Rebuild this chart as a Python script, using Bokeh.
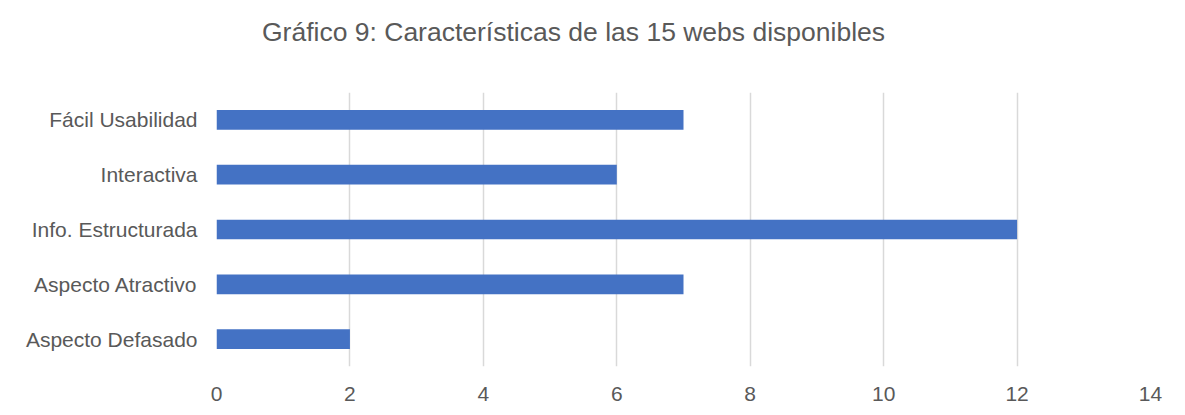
from bokeh.plotting import figure
from bokeh.models import Range1d, FixedTicker, ColumnDataSource, Div
from bokeh.layouts import column
from bokeh.embed import file_html
from bokeh.resources import INLINE

categories = ["Aspecto Defasado", "Aspecto Atractivo", "Info. Estructurada", "Interactiva", "Fácil Usabilidad"]
values = [2, 7, 12, 6, 7]
x_ticks = [0, 2, 4, 6, 8, 10, 12, 14]
title_text = "Gráfico 9: Características de las 15 webs disponibles"

FONT = "Liberation Sans"
TXT = "#595959"

src = ColumnDataSource(dict(cat=categories, val=values))

title_div = Div(text=title_text, width=880, height=30, margin=(17, 0, 45, 262),
                styles={"font-family": FONT, "font-size": "26.5px", "color": TXT,
                        "line-height": "30px", "white-space": "nowrap"})

p = figure(width=1169, height=311, y_range=categories, x_range=Range1d(0, 14),
           output_backend="svg", toolbar_location=None,
           min_border_left=216, min_border_right=19, min_border_top=0, min_border_bottom=10)

p.hbar(y="cat", right="val", left=0, height=0.36, source=src, color="#4472C4", line_color=None)

p.xaxis.ticker = FixedTicker(ticks=x_ticks)
p.xaxis.axis_line_color = None
p.xaxis.major_tick_line_color = None
p.xaxis.minor_tick_line_color = None
p.xaxis.major_label_text_font = FONT
p.xaxis.major_label_text_font_size = "21px"
p.xaxis.major_label_text_color = TXT
p.xaxis.major_label_standoff = 14

p.yaxis.axis_line_color = None
p.yaxis.major_tick_line_color = None
p.yaxis.major_label_text_font = FONT
p.yaxis.major_label_text_font_size = "21px"
p.yaxis.major_label_text_color = TXT
p.yaxis.major_label_standoff = 13

p.xgrid.grid_line_color = "#D9D9D9"
p.xgrid.grid_line_width = 1.5
p.ygrid.grid_line_color = None
p.outline_line_color = None
p.y_range.range_padding = 0

layout = column(title_div, p, spacing=0)

open("out.html", "w").write(file_html(layout, INLINE))
